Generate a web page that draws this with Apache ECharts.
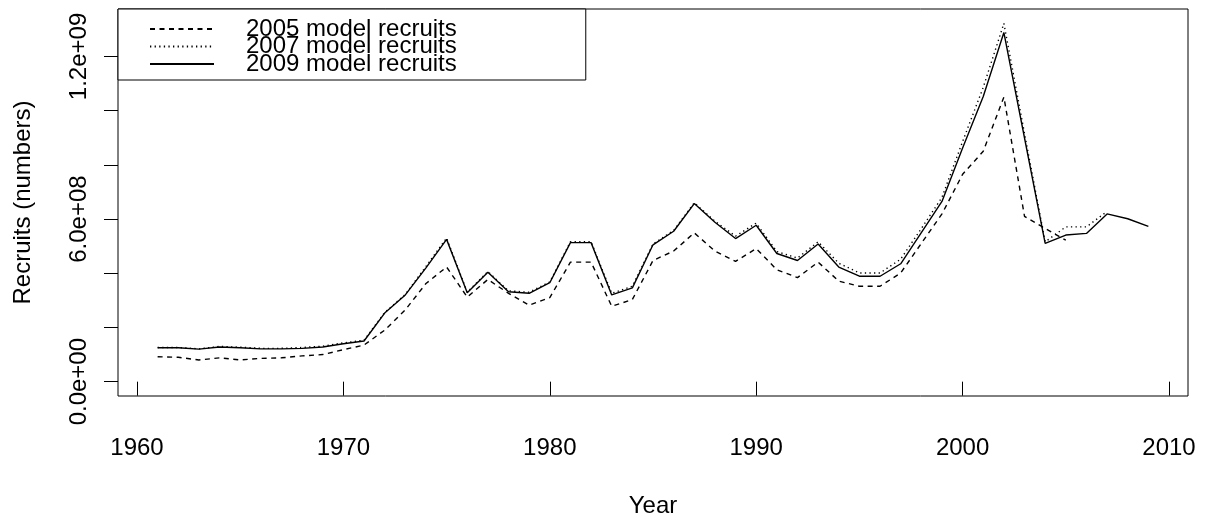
<!DOCTYPE html>
<html>
<head>
<meta charset="utf-8">
<title>Recruits by model year</title>
<script src="https://cdn.jsdelivr.net/npm/echarts@6/dist/echarts.min.js"></script>
<style>
  html, body { margin: 0; padding: 0; background: #fff; }
  #chart { width: 1207px; height: 523px; }
</style>
</head>
<body>
<div id="chart"></div>
<script>
// Recruitment estimates (numbers) from three assessment model runs
const years = [
  1961, 1962, 1963, 1964, 1965, 1966, 1967, 1968, 1969, 1970,
  1971, 1972, 1973, 1974, 1975, 1976, 1977, 1978, 1979, 1980,
  1981, 1982, 1983, 1984, 1985, 1986, 1987, 1988, 1989, 1990,
  1991, 1992, 1993, 1994, 1995, 1996, 1997, 1998, 1999, 2000,
  2001, 2002, 2003, 2004, 2005, 2006, 2007, 2008, 2009
];

// values in units of 1e9 recruits
const recruits2005 = [
  0.092, 0.090, 0.080, 0.088, 0.080, 0.086, 0.088, 0.095, 0.100, 0.118,
  0.135, 0.190, 0.265, 0.362, 0.423, 0.312, 0.377, 0.326, 0.282, 0.310,
  0.441, 0.441, 0.278, 0.303, 0.447, 0.482, 0.549, 0.482, 0.444, 0.491,
  0.413, 0.384, 0.441, 0.371, 0.352, 0.352, 0.401, 0.510, 0.619, 0.765,
  0.850, 1.050, 0.610, 0.565, 0.522
];

const recruits2007 = [
  0.126, 0.126, 0.121, 0.130, 0.127, 0.123, 0.123, 0.126, 0.131, 0.143,
  0.153, 0.255, 0.322, 0.425, 0.530, 0.330, 0.406, 0.335, 0.330, 0.368,
  0.516, 0.516, 0.326, 0.352, 0.508, 0.558, 0.660, 0.592, 0.537, 0.585,
  0.480, 0.456, 0.516, 0.437, 0.401, 0.401, 0.452, 0.565, 0.680, 0.886,
  1.086, 1.322, 0.915, 0.516, 0.571, 0.571, 0.628
];

const recruits2009 = [
  0.125, 0.125, 0.120, 0.128, 0.125, 0.121, 0.121, 0.123, 0.128, 0.140,
  0.150, 0.253, 0.320, 0.420, 0.525, 0.328, 0.404, 0.332, 0.326, 0.365,
  0.513, 0.513, 0.320, 0.346, 0.505, 0.555, 0.657, 0.588, 0.528, 0.577,
  0.473, 0.447, 0.508, 0.423, 0.389, 0.389, 0.435, 0.550, 0.665, 0.862,
  1.052, 1.288, 0.899, 0.510, 0.541, 0.547, 0.619, 0.601, 0.573
];

const seriesNames = ['2005 model recruits', '2007 model recruits', '2009 model recruits'];

// axis ticks and labels
const xTicks = [1960, 1970, 1980, 1990, 2000, 2010];
const yTicks = [0, 2e8, 4e8, 6e8, 8e8, 1e9, 1.2e9];
const yLabelValues = [0, 6e8, 1.2e9];
const yLabelTexts = ['0.0e+00', '6.0e+08', '1.2e+09'];

const SCALE = 1e9;
const FONT = '"Liberation Sans", Arial, Helvetica, sans-serif';

function toPairs(values) {
  return values.map((v, i) => [years[i], v * SCALE]);
}

const chart = echarts.init(document.getElementById('chart'), null, { renderer: 'canvas' });

const lineBase = { color: '#000', width: 1.4 };

chart.setOption({
  animation: false,
  backgroundColor: '#fff',
  textStyle: { fontFamily: FONT, color: '#000' },
  grid: {
    left: 118, right: 19, top: 9, bottom: 123,
    show: true, borderColor: '#000', borderWidth: 1, backgroundColor: 'transparent'
  },
  legend: {
    orient: 'vertical',
    left: 118, top: 9,
    padding: [8, 129, 4, 31],
    // tight rows: labels are taller than the row pitch
    itemWidth: 64, itemHeight: 17.5, itemGap: -6.5,
    borderColor: '#000', borderWidth: 1, borderRadius: 0,
    backgroundColor: '#fff',
    selectedMode: false,
    itemStyle: { opacity: 0, color: 'transparent', borderWidth: 0 },
    textStyle: { fontFamily: FONT, fontSize: 24, color: '#000', padding: [0, 0, 0, 27] },
    data: seriesNames
  },
  xAxis: {
    type: 'value',
    min: 1959.08, max: 2010.92,
    name: 'Year',
    nameLocation: 'middle',
    nameGap: 98,
    nameTextStyle: { fontFamily: FONT, fontSize: 24, color: '#000' },
    axisLine: { show: false },
    splitLine: { show: false },
    axisTick: { show: true, length: 14, customValues: xTicks, lineStyle: { color: '#000', width: 1 } },
    axisLabel: {
      customValues: xTicks, margin: 40,
      fontFamily: FONT, fontSize: 24, color: '#000',
      formatter: v => String(v)
    }
  },
  yAxis: {
    type: 'value',
    min: -0.0529 * SCALE, max: 1.375 * SCALE,
    name: 'Recruits (numbers)',
    nameLocation: 'middle',
    nameGap: 83,
    nameTextStyle: { fontFamily: FONT, fontSize: 24, color: '#000' },
    axisLine: { show: false },
    splitLine: { show: false },
    axisTick: { show: true, length: 14, customValues: yTicks, lineStyle: { color: '#000', width: 1 } },
    axisLabel: {
      customValues: yLabelValues, rotate: 90, margin: 27,
      fontFamily: FONT, fontSize: 24, color: '#000',
      formatter: v => {
        const i = yLabelValues.findIndex(t => Math.abs(t - v) < 1);
        return i >= 0 ? yLabelTexts[i] : '';
      }
    }
  },
  series: [
    {
      name: seriesNames[0], type: 'line', symbol: 'none', silent: true,
      data: toPairs(recruits2005),
      lineStyle: Object.assign({}, lineBase, { type: [5, 4.5] }),
      itemStyle: { color: '#000' }
    },
    {
      name: seriesNames[1], type: 'line', symbol: 'none', silent: true,
      data: toPairs(recruits2007),
      lineStyle: Object.assign({}, lineBase, { type: [1.3, 3.3] }),
      itemStyle: { color: '#000' }
    },
    {
      name: seriesNames[2], type: 'line', symbol: 'none', silent: true,
      data: toPairs(recruits2009),
      lineStyle: Object.assign({}, lineBase, { type: 'solid' }),
      itemStyle: { color: '#000' }
    }
  ]
});
</script>
</body>
</html>
